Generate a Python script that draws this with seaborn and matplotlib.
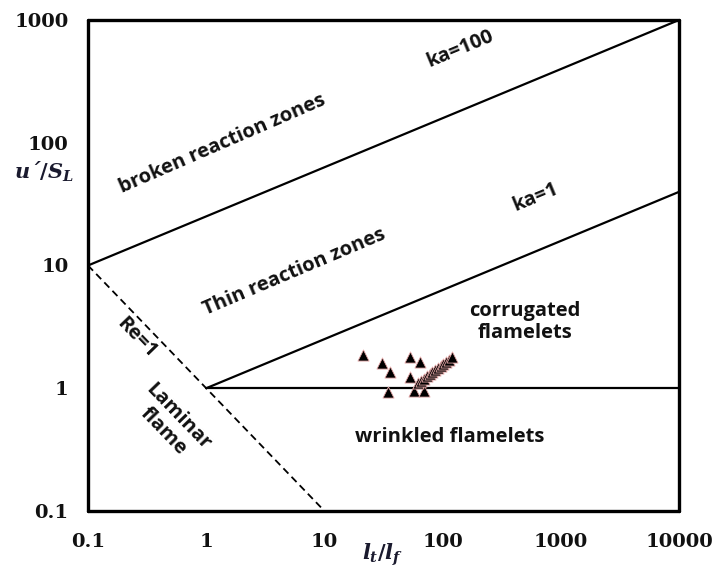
import matplotlib
matplotlib.use("Agg")
import matplotlib.pyplot as plt
import seaborn as sns
import pandas as pd

# Regime boundaries of the Borghi-Peters diagram
ka100_x = [0.1, 10000]
ka100_y = [10, 1000]
ka1_x = [1, 10000]
ka1_y = [1, 39.8]
unity_x = [1, 10000]
unity_y = [1, 1]
re1_x = [0.1, 10]
re1_y = [10, 0.1]

# Measured operating points (l_t/l_f, u'/S_L)
pts_x = [21.2, 30.5, 35.9, 34.5, 52.5, 64.4, 53.0, 56.7, 68.9]
pts_y = [1.85, 1.62, 1.36, 0.93, 1.80, 1.64, 1.23, 0.95, 0.95]

# Sweep series
sweep_x = [62, 66, 70, 74, 78, 82, 86, 91, 96, 101, 107, 113, 119]
sweep_y = [1.10, 1.15, 1.20, 1.25, 1.30, 1.35, 1.40, 1.46, 1.52, 1.58, 1.65, 1.71, 1.78]

tick_vals = [0.1, 1, 10, 100, 1000, 10000]
tick_labels = ["0.1", "1", "10", "100", "1000", "10000"]
ytick_vals = [0.1, 1, 10, 100, 1000]
ytick_labels = ["0.1", "1", "10", "100", "1000"]

sns.set_style("white")
plt.rcParams["mathtext.fontset"] = "custom"
plt.rcParams["mathtext.it"] = "DejaVu Serif:italic:bold"
plt.rcParams["mathtext.rm"] = "DejaVu Serif:bold"

fig = plt.figure(figsize=(7.15, 5.74), dpi=100)
ax = fig.add_axes([0.1231, 0.1098, 0.8266, 0.8554])
ax.set_xscale("log")
ax.set_yscale("log")

line_kw = dict(color="black", linewidth=1.6, ax=ax, legend=False)
sns.lineplot(x=ka100_x, y=ka100_y, **line_kw)
sns.lineplot(x=ka1_x, y=ka1_y, **line_kw)
sns.lineplot(x=unity_x, y=unity_y, **line_kw)
sns.lineplot(x=re1_x, y=re1_y, color="black", linewidth=1.3, ax=ax,
             legend=False, linestyle=(0, (4, 2.5)))

marker_kw = dict(marker="^", color="black", edgecolor="#e3a5a5", linewidth=0.6,
                 s=64, ax=ax, legend=False, zorder=5)
sns.scatterplot(data=pd.DataFrame({"x": pts_x, "y": pts_y}), x="x", y="y", **marker_kw)
sns.scatterplot(data=pd.DataFrame({"x": sweep_x, "y": sweep_y}), x="x", y="y", **marker_kw)

ax.set_xlim(0.1, 10000)
ax.set_ylim(0.1, 1000)
ax.set_xticks(tick_vals)
ax.set_xticklabels(tick_labels)
ax.set_yticks(ytick_vals)
ax.set_yticklabels(ytick_labels)
ax.minorticks_off()
ax.tick_params(axis="both", direction="in", length=6, width=2, color="black",
               labelsize=14, top=False, right=False)
ax.tick_params(axis="x", pad=16)
ax.tick_params(axis="y", pad=14)
for lab in ax.get_xticklabels() + ax.get_yticklabels():
    lab.set_fontfamily("DejaVu Serif")
    lab.set_fontweight("bold")
    lab.set_color("#111111")
for sp in ax.spines.values():
    sp.set_visible(True)
    sp.set_color("black")
    sp.set_linewidth(2.4)
    sp.set_capstyle("round")
ax.set_xlabel("")
ax.set_ylabel("")

lab_kw = dict(transform=ax.transAxes, ha="center", va="center", fontsize=15,
              color="#1a1a2e", fontfamily="DejaVu Serif", fontstyle="italic",
              fontweight="bold")
ax.text(-0.075, 0.69, "$u$\u00b4$/S_L$", **lab_kw)
ax.text(0.499, -0.09, r"$l_t/l_f$", **lab_kw)

txt = dict(fontfamily="Open Sans", fontweight="bold", fontsize=14.5,
           color="#111111", ha="center", va="center", rotation_mode="anchor")
ax.text(1.38, 97, "broken reaction zones", rotation=23.5, **txt)
ax.text(140, 580, "ka=100", rotation=22.5, **txt)
ax.text(5.6, 8.8, "Thin reaction zones", rotation=23, **txt)
ax.text(605, 36, "ka=1", rotation=22.5, **txt)
ax.text(498, 3.44, "corrugated\nflamelets", rotation=0, linespacing=1.15, **txt)
ax.text(115, 0.40, "wrinkled flamelets", rotation=0, **txt)
ax.text(0.26, 2.55, "Re=1", rotation=-46, **txt)
ax.text(0.50, 0.51, "Laminar\nflame", rotation=-46, linespacing=1.1, **txt)

fig.savefig("out.png", dpi=100)
